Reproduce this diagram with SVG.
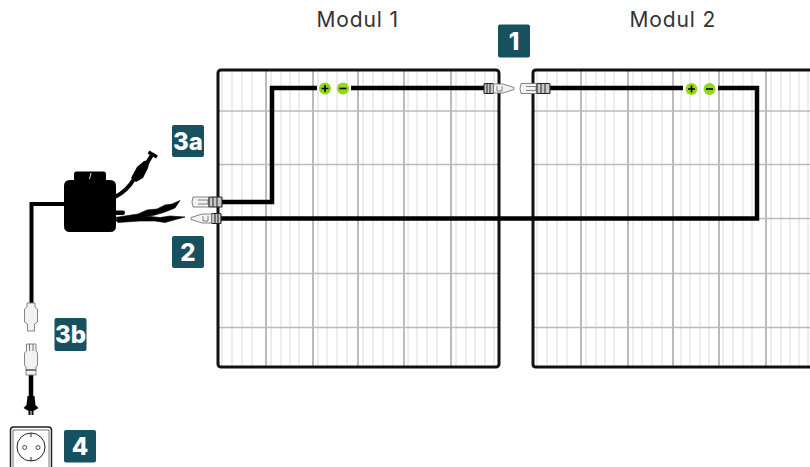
<svg xmlns="http://www.w3.org/2000/svg" width="810" height="467" viewBox="0 0 810 467">
<style>
.t{font-family:"Inter","Open Sans",sans-serif;font-size:21px;fill:#333;letter-spacing:.85px}
.b{fill:#17505f}
.n{font-family:"Inter","Liberation Sans",sans-serif;font-weight:800;font-size:24px;fill:#fff;text-anchor:middle}
.lt{stroke:#e6e6e6;stroke-width:1.4;fill:none}
.md{stroke:#b4b4b4;stroke-width:1.8;fill:none}
.hz{stroke:#bbb;stroke-width:1.3;fill:none}
.fr{fill:none;stroke:#111;stroke-width:3}
.w{fill:none;stroke:#000;stroke-width:4.500}
.g{fill:#8fd916}
.s{stroke:#000;stroke-width:1.600;fill:none}
.c{fill:#f2f2f2;stroke:#777;stroke-width:.9}
.d{fill:#c8c8c8;stroke:#222;stroke-width:1.100}
</style>
<defs>
<g id="sign"><circle r="6" class="g"/></g>
<g id="male"><rect x="0" y="-5" width="9.500" height="10" rx="1" class="d"/><path d="M3 -5V5M6 -5V5" stroke="#222" stroke-width="1"/><path d="M9.500 -4.500H19L30 -1V1L19 4.500H9.500Z" class="c"/><path d="M13 -2.500V2.500H18V-2.500" fill="none" stroke="#666" stroke-width=".8"/></g>
<g id="female"><path d="M1 -5H17V5H1Q-1 0 1 -5Z" class="c"/><path d="M6 -2H16V2H6" fill="none" stroke="#777" stroke-width=".9"/><rect x="17" y="-5" width="13" height="10" rx="1" class="d"/><path d="M21 -5V5M25 -5V5" stroke="#222" stroke-width="1"/></g>
</defs>
<rect width="810" height="467" fill="#fff"/>
<text class="t" x="316.500" y="27">Modul 1</text>
<text class="t" x="629.500" y="27">Modul 2</text>

<g id="modul-1">
<path class="lt" d="M222 71V367M232 71V367M242 71V367M252 71V367M271 71V367M281 71V367M290 71V367M299 71V367M318 71V367M327 71V367M337 71V367M347 71V367M363 71V367M373 71V367M383 71V367M393 71V367M408 71V367M417 71V367M427 71V367M437 71V367M456 71V367M466 71V367M475 71V367M485 71V367M494 71V367"/>
<path class="md" d="M266 71V367M313 71V367M358 71V367M404 71V367M451 71V367"/>
<path class="hz" d="M219 111H498M219 164.500H498M219 218.500H498M219 273.500H498M219 327.500H498"/>
<rect class="fr" x="218" y="70" width="281" height="297" rx="3"/>
</g>
<g id="modul-2">
<path class="lt" d="M537 71V367M547 71V367M557 71V367M567 71V367M586 71V367M596 71V367M605 71V367M614 71V367M633 71V367M642 71V367M652 71V367M662 71V367M681 71V367M690 71V367M700 71V367M709 71V367M723 71V367M733 71V367M743 71V367M752 71V367M771 71V367M781 71V367M790 71V367M799 71V367M808 71V367"/>
<path class="md" d="M581 71V367M628 71V367M673 71V367M719 71V367M766 71V367"/>
<path class="hz" d="M534 111H810M534 164.500H810M534 218.500H810M534 273.500H810M534 327.500H810"/>
<path class="fr" d="M812 70H536Q533 70 533 73V364Q533 367 536 367H812"/>
</g>

<g id="connectors">
<path class="w" d="M218 202H272V88H317"/>
<path class="w" d="M351 88H486"/>
<path class="w" d="M548 88H683"/>
<path class="w" d="M718 88H757V218.500H218"/>
<path d="M64 204H31.500V304" fill="none" stroke="#000" stroke-width="4"/>
<path d="M31 375V397" fill="none" stroke="#000" stroke-width="4.500"/>
</g>

<g id="signs-1"><use href="#sign" x="325" y="88.500"/><path class="s" d="M321.500 88.500h7M325 85v7"/><use href="#sign" x="343" y="88.500"/><path class="s" d="M339.500 88.500h7"/></g>
<g id="signs-2"><use href="#sign" x="691.500" y="89"/><path class="s" d="M688 89h7M691.500 85.500v7"/><use href="#sign" x="709.500" y="89"/><path class="s" d="M706 89h7"/></g>

<g id="connector-1"><use href="#male" x="484" y="88.500"/><use href="#female" x="520" y="88.500"/></g>
<g id="connector-2"><use href="#female" x="192" y="202"/><g transform="translate(221 218.500) scale(-1 1)"><use href="#male"/></g></g>

<g id="inverter">
<path d="M74 174Q74 171.500 76 171.500H104Q106 171.500 106 174V180H110Q116 180 116 186V226Q116 232 110 232H70Q64 232 64 226V186Q64 180 70 180H74Z" fill="#000"/>
<path d="M91 173L89.500 179" stroke="#fff" stroke-width=".9"/>
<rect x="114" y="210.500" width="11" height="4.500" rx="2.200"/>
<path d="M115 197Q127 191 134 179" fill="none" stroke="#000" stroke-width="4"/>
<path d="M131 178L137 167L144 161L150 160L148 168L143 178L136 182Z"/>
<path d="M147 163L152 155" stroke="#000" stroke-width="4"/>
<path d="M148.500 152L157 157" stroke="#000" stroke-width="3.500"/>
<path d="M115 217.500L138 214L147 210L157 209L165 205L172 204L180 200.500L175 208L165 212L155 215L145 217L120 221Z" stroke="#000" stroke-width=".6"/>
<path d="M115 219.500L140 217.500L150 216.500L160 217.500L170 216L185 217L172 220.500L165 222.500L155 221L140 221L118 222.500Z" stroke="#000" stroke-width=".6"/>
</g>

<g id="plug-3b">
<path d="M27 303H35V307L37.500 309V322L34.500 324V331H27.500V324L24.500 322V309L27 307Z" class="c"/>
<path d="M26.500 344H36V351L37.500 353V365L36 367V375H26V367L24.500 365V353L26.500 351Z" class="c"/>
<path d="M29.500 344V351M33 344V351" stroke="#666" stroke-width=".9"/>
<path d="M26 370H36" stroke="#555" stroke-width="1.500"/>
<path d="M27.500 396H34.500L35.500 405L38.500 408L33.500 411L33.500 415H31.500V411H30.500V415H28.500V411L23.500 408L26.500 405Z"/>
</g>

<g id="socket-4">
<rect x="10.500" y="427" width="41" height="50" rx="3" fill="#fff" stroke="#222" stroke-width="1.500"/>
<rect x="13" y="430" width="36" height="44" fill="none" stroke="#777" stroke-width="1"/>
<circle cx="31" cy="447" r="14" fill="none" stroke="#222" stroke-width="1"/>
<circle cx="24.700" cy="447.500" r="2" fill="none" stroke="#222" stroke-width=".8"/>
<circle cx="38" cy="447.500" r="2" fill="none" stroke="#222" stroke-width=".8"/>
<path d="M31 433V437M31 457V461" stroke="#222" stroke-width="1"/>
</g>

<g id="label-1"><rect class="b" x="498" y="24.500" width="32" height="33" rx="2"/><text class="n" x="514" y="49.500">1</text></g>
<g id="label-3a"><rect class="b" x="172" y="125" width="32" height="32" rx="2"/><text class="n" x="188" y="149.500">3a</text></g>
<g id="label-2"><rect class="b" x="172" y="236" width="32" height="32" rx="2"/><text class="n" x="188" y="260.500">2</text></g>
<g id="label-3b"><rect class="b" x="54.500" y="318" width="32" height="33" rx="2"/><text class="n" x="70.500" y="342.500">3b</text></g>
<g id="label-4"><rect class="b" x="64" y="430" width="32" height="32.500" rx="2"/><text class="n" x="80" y="454.500">4</text></g>
</svg>
